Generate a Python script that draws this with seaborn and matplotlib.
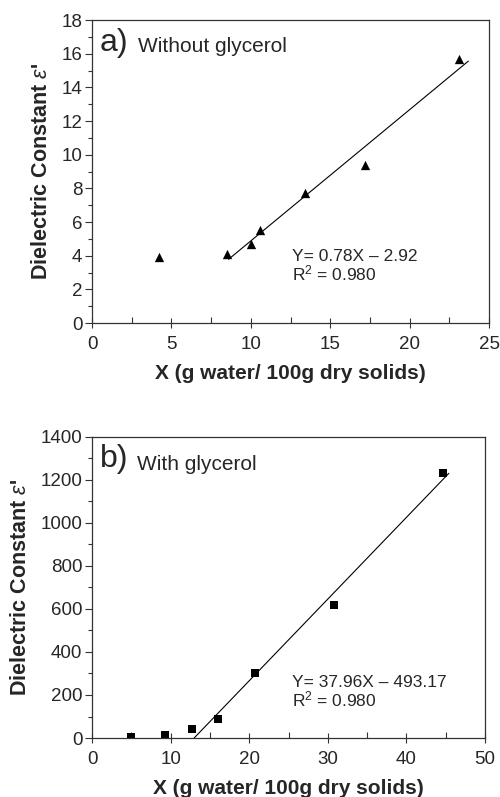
import matplotlib
matplotlib.use("Agg")
import matplotlib.pyplot as plt
import seaborn as sns
import numpy as np
import pandas as pd
from matplotlib.ticker import MultipleLocator

# data
x_a = [4.2, 8.5, 10.0, 10.6, 13.4, 17.2, 23.1]
y_a = [3.9, 4.1, 4.7, 5.5, 7.7, 9.4, 15.7]
fit_a = (0.78, -2.92)
fit_range_a = [8.6, 23.7]

x_b = [5.0, 9.3, 12.7, 16.0, 20.8, 30.8, 44.6]
y_b = [5, 15, 40, 90, 300, 620, 1230]
fit_b = (37.96, -493.17)
fit_range_b = [13.0, 45.4]

sns.set_theme(style="ticks")
plt.rcParams['font.family'] = ['Liberation Sans', 'DejaVu Sans']
plt.rcParams['mathtext.fontset'] = 'custom'
plt.rcParams['mathtext.rm'] = 'Liberation Sans'
plt.rcParams['mathtext.it'] = 'Liberation Sans:italic'

fig = plt.figure(figsize=(5, 7.97), dpi=100)
ax1 = fig.add_axes([0.184, 0.5947, 0.794, 0.380])
ax2 = fig.add_axes([0.184, 0.074, 0.786, 0.378])

def style(ax, xlim, ylim, xmaj, xmin, ymaj, ymin):
    ax.set_xlim(*xlim)
    ax.set_ylim(*ylim)
    ax.xaxis.set_major_locator(MultipleLocator(xmaj))
    ax.xaxis.set_minor_locator(MultipleLocator(xmin))
    ax.yaxis.set_major_locator(MultipleLocator(ymaj))
    ax.yaxis.set_minor_locator(MultipleLocator(ymin))
    ax.tick_params(axis='x', which='major', direction='inout', length=7, width=0.8, labelsize=13.5, pad=6, color='#333333')
    ax.tick_params(axis='x', which='minor', direction='in', length=4, width=0.8, color='#333333')
    ax.tick_params(axis='y', which='major', direction='out', length=5, width=0.8, labelsize=13.5, pad=2, color='#333333')
    ax.tick_params(axis='y', which='minor', direction='out', length=3, width=0.8, color='#333333')
    for s in ax.spines.values():
        s.set_linewidth(0.9)
        s.set_color('#333333')
    ax.set_xlabel("X (g water/ 100g dry solids)", fontsize=15, fontweight='bold', labelpad=8)
    ax.set_ylabel(r"Dielectric Constant $\varepsilon$'", fontsize=15.5, fontweight='bold', labelpad=7)

df_a = pd.DataFrame({'x': x_a, 'y': y_a})
sns.scatterplot(data=df_a, x='x', y='y', ax=ax1, marker='^', s=45, color='black', edgecolor='black', linewidth=0)
fa = np.array(fit_range_a)
sns.lineplot(x=fa, y=fit_a[0] * fa + fit_a[1], ax=ax1, color='black', linewidth=0.8)
style(ax1, (0, 25), (0, 18), 5, 2.5, 2, 1)
ax1.text(0.02, 0.975, "a)", transform=ax1.transAxes, fontsize=23, va='top', ha='left')
ax1.text(0.115, 0.945, "Without glycerol", transform=ax1.transAxes, fontsize=15, va='top', ha='left')
ax1.text(0.505, 0.13, "Y= 0.78X \u2013 2.92\nR$^2$ = 0.980", transform=ax1.transAxes, fontsize=12.5, va='bottom', ha='left', linespacing=1.0)

df_b = pd.DataFrame({'x': x_b, 'y': y_b})
sns.scatterplot(data=df_b, x='x', y='y', ax=ax2, marker='s', s=30, color='black', edgecolor='black', linewidth=0)
fb = np.array(fit_range_b)
sns.lineplot(x=fb, y=fit_b[0] * fb + fit_b[1], ax=ax2, color='black', linewidth=0.8)
style(ax2, (0, 50), (0, 1400), 10, 5, 200, 100)
ax2.text(0.02, 0.975, "b)", transform=ax2.transAxes, fontsize=23, va='top', ha='left')
ax2.text(0.115, 0.94, "With glycerol", transform=ax2.transAxes, fontsize=15, va='top', ha='left')
ax2.text(0.51, 0.095, "Y= 37.96X \u2013 493.17\nR$^2$ = 0.980", transform=ax2.transAxes, fontsize=12.5, va='bottom', ha='left', linespacing=1.0)

fig.savefig("out.png", dpi=100)
